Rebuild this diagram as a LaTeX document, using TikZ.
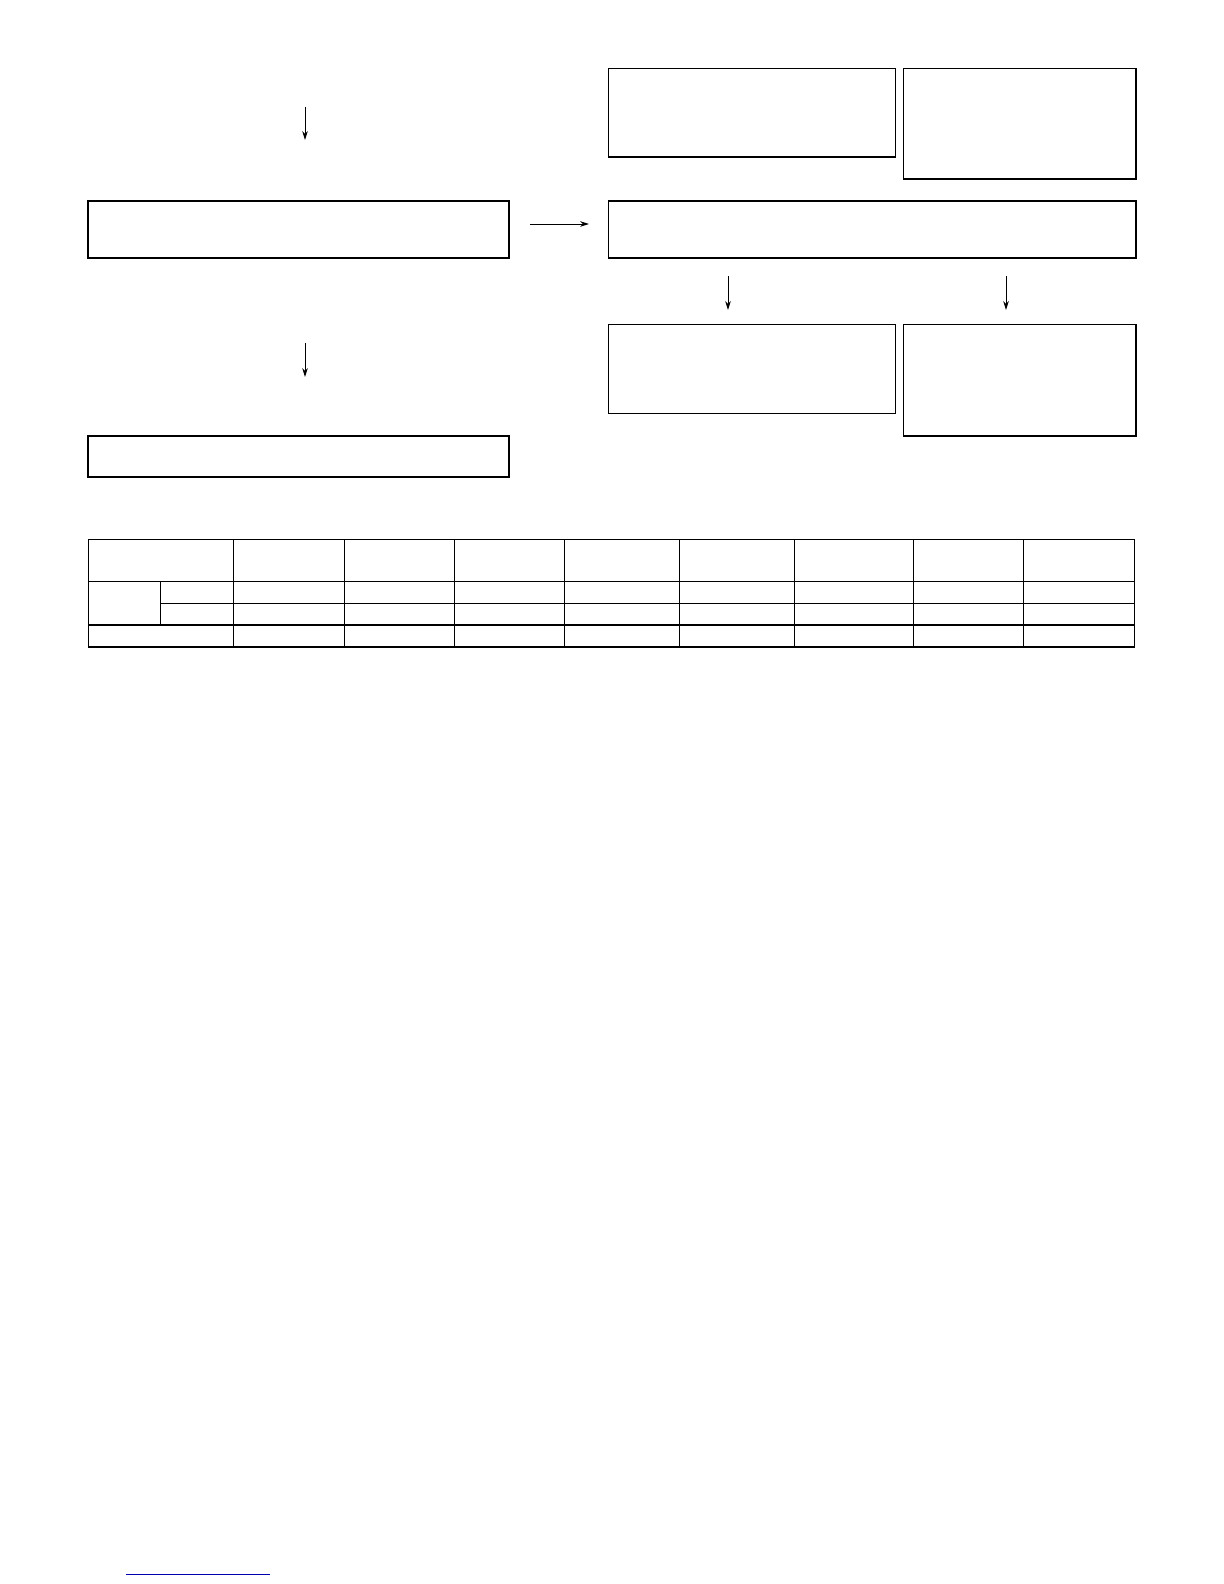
\documentclass[tikz,border=0pt]{standalone}
\usetikzlibrary{arrows.meta,fit}
\begin{document}
\begin{tikzpicture}[x=0.5pt,y=-0.5pt,
  box/.style={draw=black,line width=0.55pt,inner sep=0pt,outer sep=0pt,rectangle},
  arr/.style={draw=black,line width=0.45pt,-{Stealth[length=4.5pt,width=2.8pt]}},
  grid/.style={draw=black,line width=0.55pt},
  link/.style={draw=blue!70!black,line width=0.5pt}]
\useasboundingbox[fill=white] (0,0) rectangle (1224,1584);
% left column
\node[box,fit={(88,201) (509,258)}] (A) {};
\node[box,fit={(88,436) (509,477)}] (B) {};
% right column
\node[box,fit={(608.5,68.5) (895.5,157)}] (R1) {};
\node[box,fit={(903.5,68.5) (1136,179)}] (R2) {};
\node[box,fit={(608.5,201) (1136,258)}] (M) {};
\node[box,fit={(608.5,324.5) (895.5,413.5)}] (R3) {};
\node[box,fit={(903.5,324.5) (1136,436)}] (R4) {};
% arrows
\coordinate (t1) at (305,107);
\coordinate (t2) at (305,140);
\coordinate (t3) at (305,342.5);
\coordinate (t4) at (305,377);
\coordinate (h1) at (530,224);
\coordinate (h2) at (589,224);
\coordinate (d1) at (728,276);
\coordinate (d2) at (728,310);
\coordinate (e1) at (1006,276);
\coordinate (e2) at (1006,310);
\draw[arr] (t1) -- (t2);
\draw[arr] (t3) -- (t4);
\draw[arr] (h1) -- (h2);
\draw[arr] (d1) -- (d2);
\draw[arr] (e1) -- (e2);
% table
\draw[grid] (88.3,539.5) rectangle (1134.5,647);
\draw[grid] (88.3,581.5) -- (1134.5,581.5);
\draw[grid] (160.7,603.5) -- (1134.5,603.5);
\draw[grid] (88.3,625) -- (1134.5,625);
\draw[grid] (160.7,581.5) -- (160.7,625);
\foreach \cx in {233.6,344.6,454.6,564.6,679.5,794.5,913.5,1023.5}
  \draw[grid] (\cx,539.5) -- (\cx,647);
% link underline
\draw[link] (126,1574) -- (270,1574);
\end{tikzpicture}
\end{document}
